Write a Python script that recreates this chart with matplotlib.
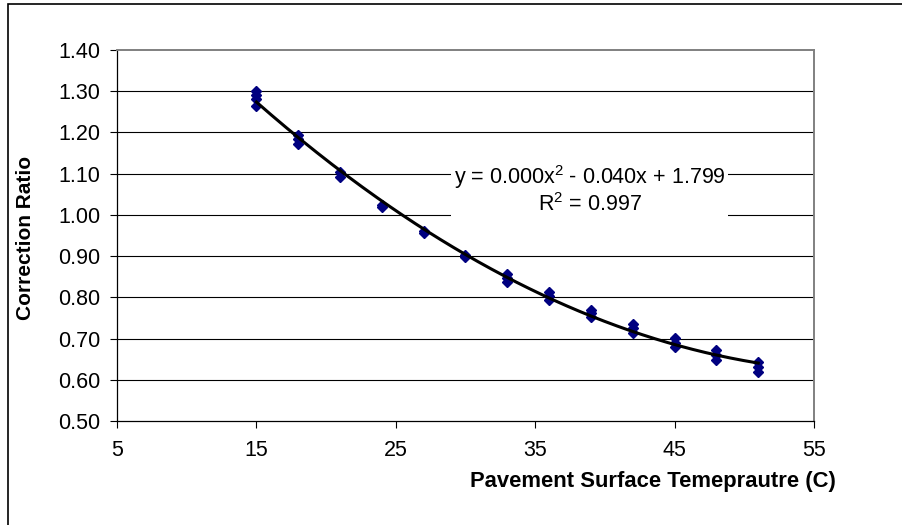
import numpy as np
import matplotlib
matplotlib.use("Agg")
import matplotlib.pyplot as plt
from matplotlib.patches import Rectangle

plt.rcParams['font.family'] = ['Liberation Sans', 'DejaVu Sans']
plt.rcParams['mathtext.fontset'] = 'custom'
plt.rcParams['mathtext.rm'] = 'Liberation Sans'
plt.rcParams['mathtext.it'] = 'Liberation Sans'

# Measured correction ratios at each pavement surface temperature (replicates)
temperature = [15, 15, 15, 15,
               18, 18, 18,
               21, 21,
               24, 24,
               27, 27,
               30, 30,
               33, 33, 33,
               36, 36, 36,
               39, 39, 39,
               42, 42, 42,
               45, 45, 45,
               48, 48, 48,
               51, 51, 51]
ratio = [1.300, 1.290, 1.280, 1.265,
         1.195, 1.185, 1.172,
         1.103, 1.093,
         1.025, 1.020,
         0.960, 0.955,
         0.902, 0.897,
         0.857, 0.848, 0.838,
         0.812, 0.803, 0.793,
         0.770, 0.762, 0.752,
         0.735, 0.725, 0.713,
         0.702, 0.690, 0.680,
         0.672, 0.660, 0.648,
         0.643, 0.630, 0.618]

equation_text = "y = 0.000x$^2$ - 0.040x + 1.799\nR$^2$ = 0.997"
x_ticks = [5, 15, 25, 35, 45, 55]
y_ticks = [0.50, 0.60, 0.70, 0.80, 0.90, 1.00, 1.10, 1.20, 1.30, 1.40]
x_label = "Pavement Surface Temeprautre (C)"
y_label = "Correction Ratio"

W, H = 903, 525
fig = plt.figure(figsize=(W / 100, H / 100), dpi=100)
fig.patch.set_facecolor('white')

# chart border
fig.add_artist(Rectangle((8 / W, -0.05), 1.2, (1 - 4 / H) + 0.05,
                         transform=fig.transFigure, fill=False,
                         edgecolor='black', linewidth=1.2))

left, right, top, bottom = 117, 814, 50, 421
ax = fig.add_axes([left / W, 1 - bottom / H, (right - left) / W, (bottom - top) / H])

ax.set_xlim(5, 55)
ax.set_ylim(0.50, 1.40)
ax.set_xticks(x_ticks)
ax.set_yticks(y_ticks)
ax.set_yticklabels([f"{v:.2f}" for v in y_ticks])
ax.set_xticklabels([str(v) for v in x_ticks])

for v in y_ticks[1:-1]:
    ax.axhline(v, color='black', linewidth=0.8, zorder=1)

for s in ['left', 'bottom']:
    ax.spines[s].set_color('black')
    ax.spines[s].set_linewidth(0.9)
for s in ['top', 'right']:
    ax.spines[s].set_color('#808080')
    ax.spines[s].set_linewidth(1.4)

ax.tick_params(axis='both', direction='out', length=5, width=0.8,
               labelsize=15.5, color='black')
ax.tick_params(axis='y', pad=7)
ax.tick_params(axis='x', pad=9)

# polynomial trend line
t = np.array(temperature, dtype=float)
r = np.array(ratio, dtype=float)
coef = np.polyfit(t, r, 2)
xs = np.linspace(t.min(), t.max(), 200)
ax.plot(xs, np.polyval(coef, xs), color='black', linewidth=2.2, zorder=4)

ax.plot(temperature, ratio, linestyle='none', marker='D', markersize=5.4,
        color='#000080', markeredgecolor='#000080', zorder=3)

ax.text(38.9, 1.062, equation_text, ha='center', va='center', fontsize=15.5,
        linespacing=1.12, zorder=5,
        bbox=dict(facecolor='white', edgecolor='none', pad=2))

fig.text(26 / W, 1 - 238 / H, y_label, rotation=90, ha='center',
         va='center', fontsize=15, fontweight='bold')
fig.text(836 / W, 1 - 482 / H, x_label,
         ha='right', va='center', fontsize=15.8, fontweight='bold')

fig.savefig("out.png", dpi=100)
